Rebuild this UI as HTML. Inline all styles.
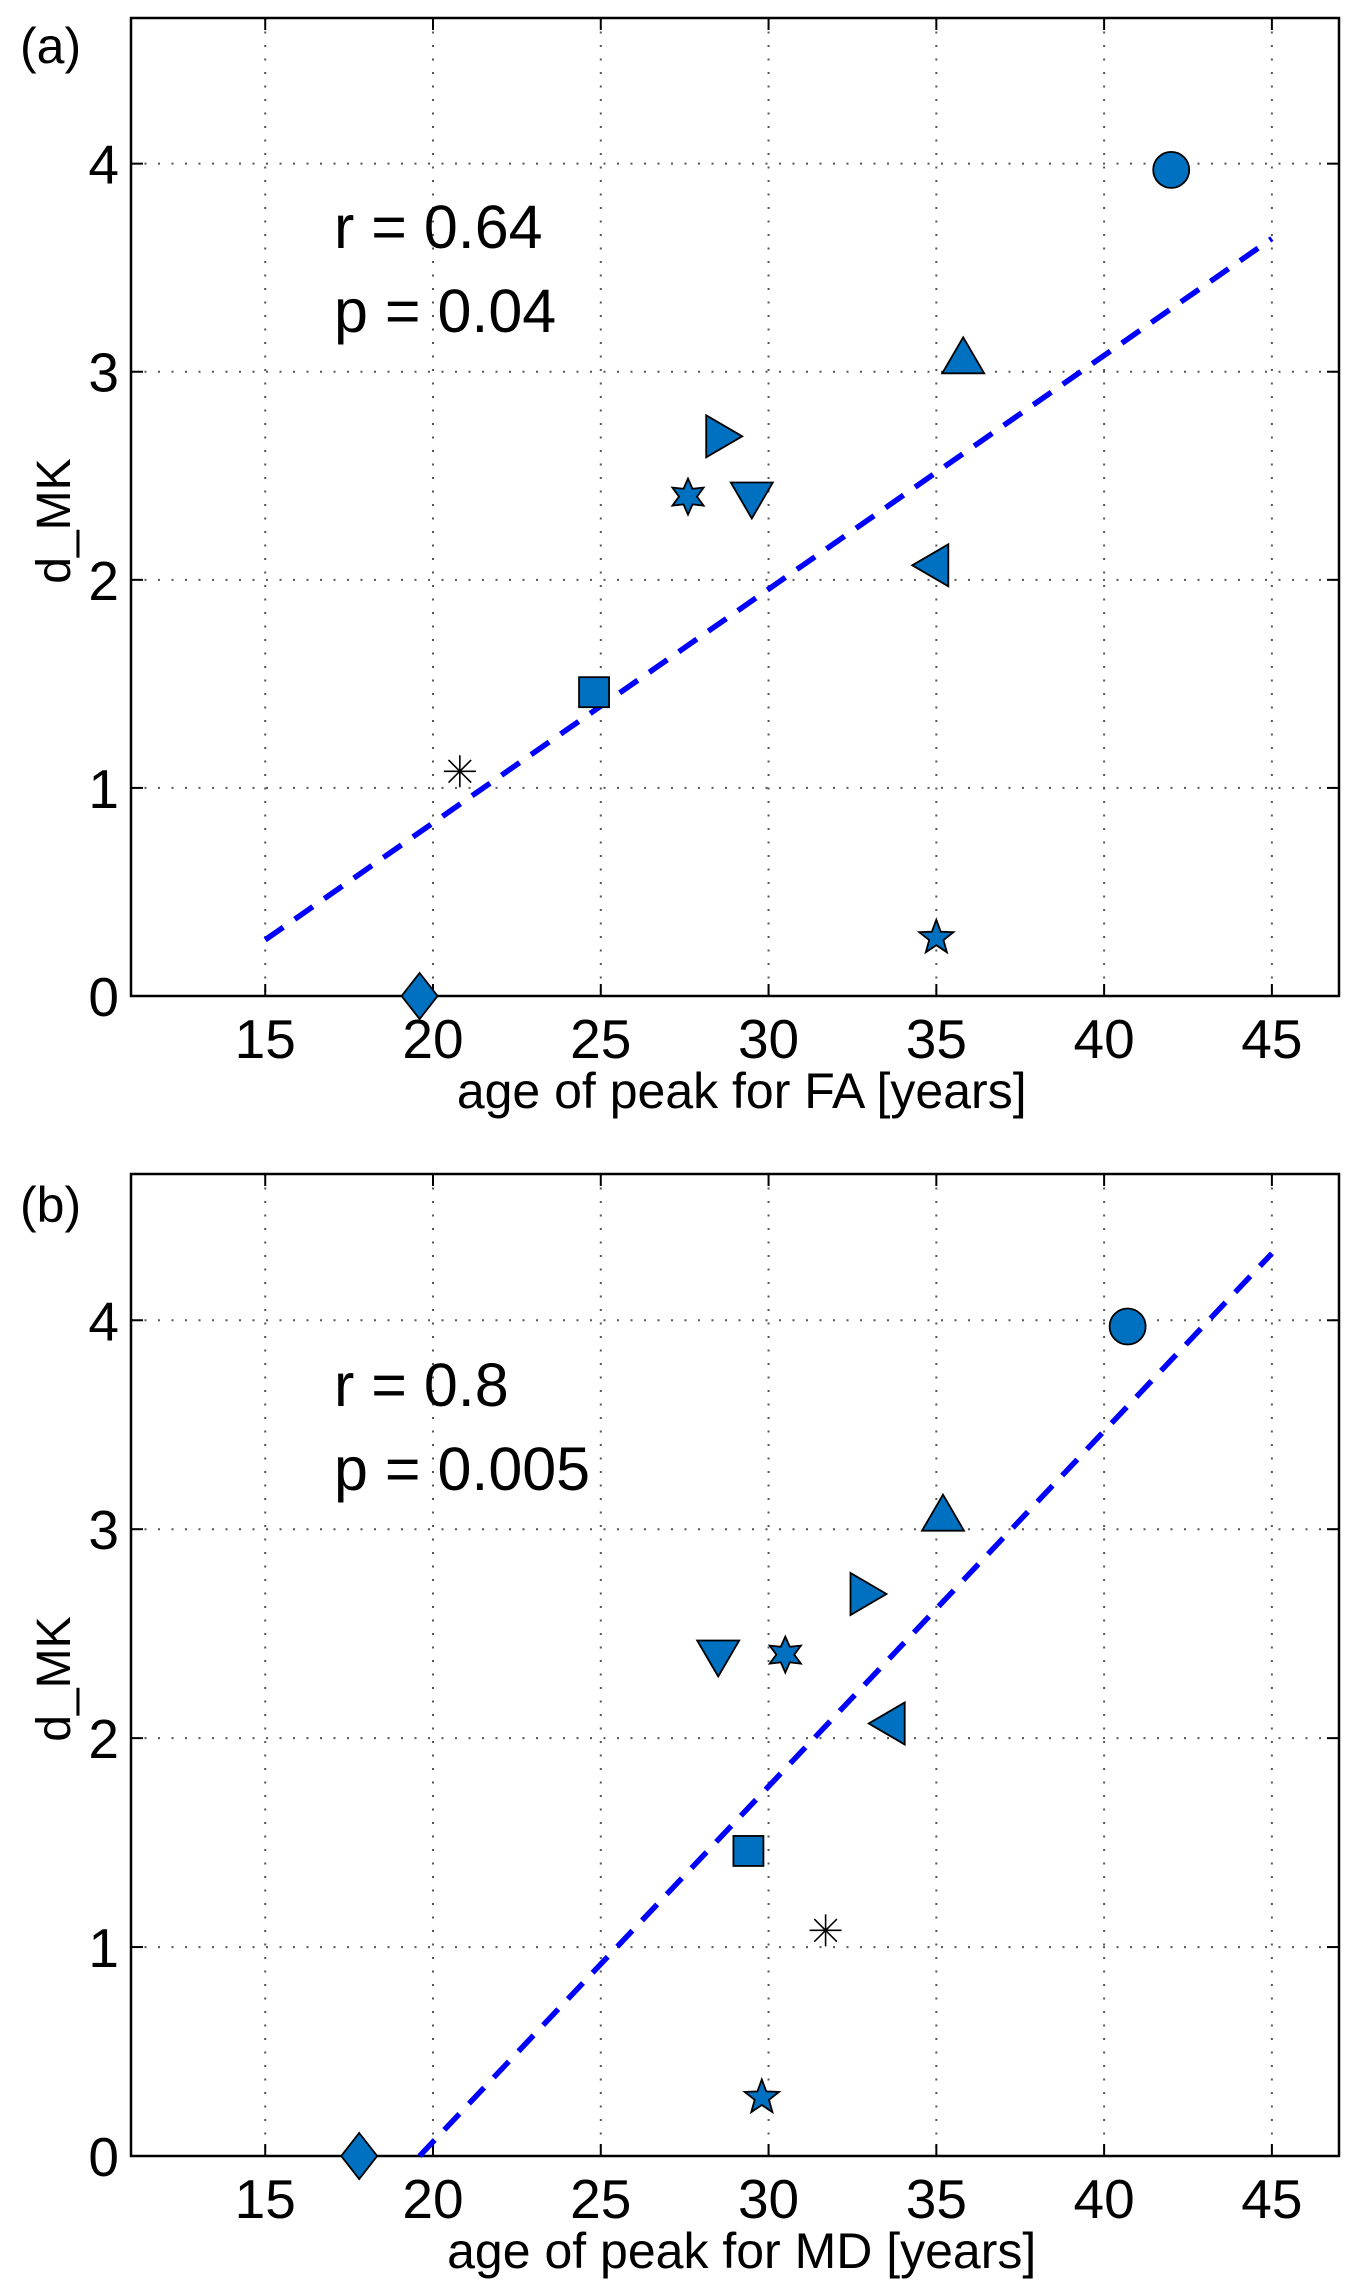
<!DOCTYPE html>
<html><head><meta charset="utf-8"><style>
html,body{margin:0;padding:0;background:#fff;}
svg{display:block;font-family:"Liberation Sans",sans-serif;}
</style></head><body>
<svg id="fig" width="1360" height="2284" viewBox="0 0 1360 2284" xmlns="http://www.w3.org/2000/svg"></svg>
<script>
// ---- data ----
const xTicks = [15, 20, 25, 30, 35, 40, 45];
const yTicks = [0, 1, 2, 3, 4];
const markerNames = ['circle','triangle-up','triangle-right','hexagram','triangle-down','triangle-left','square','asterisk','pentagram','diamond'];
const faAges = [42.0, 35.8, 28.5, 27.6, 29.5, 35.0, 24.8, 20.8, 35.0, 19.6];
const mdAges = [40.7, 35.2, 32.8, 30.5, 28.5, 33.7, 29.4, 31.7, 29.8, 17.8];
const dMK = [3.97, 3.05, 2.69, 2.40, 2.41, 2.07, 1.46, 1.08, 0.28, 0.00];
const fitA = [[15, 0.27], [45, 3.64]];
const fitB = [[19.6, 0.0], [45, 4.32]];
const statsA = ['r = 0.64', 'p = 0.04'];
const statsB = ['r = 0.8', 'p = 0.005'];

const NS = 'http://www.w3.org/2000/svg';
const svg = document.getElementById('fig');
function mk(tag, attrs, parent){
  const e = document.createElementNS(NS, tag);
  for (const k in attrs) e.setAttribute(k, attrs[k]);
  (parent || svg).appendChild(e);
  return e;
}
const BLUE = '#0070C0';

function marker(g, type, cx, cy){
  const st = {fill: BLUE, stroke: '#000', 'stroke-width': 1.8};
  let e;
  const pts = a => a.map(p => (cx + p[0]).toFixed(1) + ',' + (cy + p[1]).toFixed(1)).join(' ');
  if (type === 'circle') e = mk('circle', Object.assign({cx, cy, r: 18}, st), g);
  else if (type === 'square') e = mk('rect', Object.assign({x: cx - 15, y: cy - 15, width: 30, height: 30}, st), g);
  else if (type === 'diamond') e = mk('polygon', Object.assign({points: pts([[0,-23],[18,0],[0,23],[-18,0]])}, st), g);
  else if (type === 'triangle-up') e = mk('polygon', Object.assign({points: pts([[0,-24],[21,12],[-21,12]])}, st), g);
  else if (type === 'triangle-down') e = mk('polygon', Object.assign({points: pts([[0,24],[21,-12],[-21,-12]])}, st), g);
  else if (type === 'triangle-right') e = mk('polygon', Object.assign({points: pts([[24,0],[-12,21],[-12,-21]])}, st), g);
  else if (type === 'triangle-left') e = mk('polygon', Object.assign({points: pts([[-24,0],[12,21],[12,-21]])}, st), g);
  else if (type === 'hexagram'){
    const a = [];
    for (let i = 0; i < 12; i++){ const r = i % 2 ? 9 : 18; const t = -Math.PI/2 + i*Math.PI/6; a.push([r*Math.cos(t), r*Math.sin(t)]); }
    e = mk('polygon', Object.assign({points: pts(a)}, st), g);
  } else if (type === 'pentagram'){
    const a = [];
    for (let i = 0; i < 10; i++){ const r = i % 2 ? 7.5 : 18; const t = -Math.PI/2 + i*Math.PI/5; a.push([r*Math.cos(t), r*Math.sin(t)]); }
    e = mk('polygon', Object.assign({points: pts(a)}, st), g);
  } else if (type === 'asterisk'){
    e = mk('g', {stroke: '#000', 'stroke-width': 1.6}, g);
    for (let i = 0; i < 4; i++){ const t = i*Math.PI/4; mk('line', {x1: cx - 16*Math.cos(t), y1: cy - 16*Math.sin(t), x2: cx + 16*Math.cos(t), y2: cy + 16*Math.sin(t)}, e); }
  }
  return e;
}

function panel(cfg){
  const L = 131, R = 1339, T = cfg.top, B = cfg.bottom;
  const xmin = 11, xmax = 47, ymin = 0, ymax = 4.7;
  const X = v => L + (v - xmin) / (xmax - xmin) * (R - L);
  const Y = v => B - (v - ymin) / (ymax - ymin) * (B - T);
  const g = mk('g', {});
  
  
  const grid = mk('g', {stroke: '#555', 'stroke-width': 2, 'stroke-dasharray': '2 11.5'}, g);
  
  
  xTicks.forEach(v => mk('line', {x1: X(v), x2: X(v), y1: T, y2: B}, grid));
  yTicks.forEach(v => { if (v > 0) mk('line', {x1: L, x2: R, y1: Y(v), y2: Y(v)}, grid); });
  const tk = mk('g', {stroke: '#000', 'stroke-width': 2}, g);
  xTicks.forEach(v => { mk('line', {x1: X(v), x2: X(v), y1: B, y2: B - 12}, tk); mk('line', {x1: X(v), x2: X(v), y1: T, y2: T + 12}, tk); });
  yTicks.forEach(v => { mk('line', {x1: L, x2: L + 12, y1: Y(v), y2: Y(v)}, tk); mk('line', {x1: R, x2: R - 12, y1: Y(v), y2: Y(v)}, tk); });
  const fr = mk('rect', {x: L, y: T, width: R - L, height: B - T, fill: 'none', stroke: '#000', 'stroke-width': 2.5}, g);
  
  
  xTicks.forEach(v => {
    const t = mk('text', {x: X(v), y: cfg.xTickY, 'font-size': 55, 'text-anchor': 'middle'}, g);
    t.textContent = v;
    
    
  });
  yTicks.forEach(v => {
    const t = mk('text', {x: 119, y: Y(v) + 20, 'font-size': 55, 'text-anchor': 'end'}, g);
    t.textContent = v;
    
    
  });
  const xl = mk('text', {x: X(29.2), y: cfg.xLabelY, 'font-size': 50, 'text-anchor': 'middle'}, g);
  xl.textContent = cfg.xlabel;
  
  
  const ymid = (T + B) / 2 + 14;
  const yl = mk('text', {x: 70, y: ymid, 'font-size': 48, 'text-anchor': 'middle', transform: 'rotate(-90 70 ' + ymid + ')'}, g);
  yl.textContent = 'd_MK';
  
  
  const pl = mk('text', {x: 20, y: cfg.labelY, 'font-size': 50}, g);
  pl.textContent = cfg.tag;
  
  
  cfg.stats.forEach((s, i) => {
    const t = mk('text', {x: 334, y: cfg.statY[i], 'font-size': 61}, g);
    t.textContent = s;
    
    
  });
  const fl = mk('line', {x1: X(cfg.fit[0][0]), y1: Y(cfg.fit[0][1]), x2: X(cfg.fit[1][0]), y2: Y(cfg.fit[1][1]), stroke: '#0000ff', 'stroke-width': 5.5, 'stroke-dasharray': '22 14'}, g);
  
  
  cfg.xs.forEach((xv, i) => {
    const m = marker(g, markerNames[i], X(xv), Y(dMK[i]));
    
    
  });
}

panel({name: 'panel-a', tag: '(a)', top: 18, bottom: 996, xs: faAges, fit: fitA, stats: statsA,
  statY: [248, 332], xTickY: 1058, xLabelY: 1108, labelY: 63, xlabel: 'age of peak for FA [years]'});
panel({name: 'panel-b', tag: '(b)', top: 1174, bottom: 2156, xs: mdAges, fit: fitB, stats: statsB,
  statY: [1406, 1490], xTickY: 2218, xLabelY: 2268, labelY: 1222, xlabel: 'age of peak for MD [years]'});
</script>
</body></html>
